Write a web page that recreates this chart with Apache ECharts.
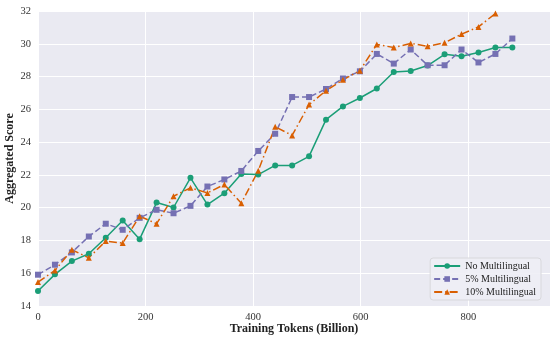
<!DOCTYPE html>
<html><head><meta charset="utf-8">
<script src="https://cdn.jsdelivr.net/npm/echarts@6/dist/echarts.min.js"></script>
<style>html,body{margin:0;padding:0;background:#fff}#c{width:550px;height:337px}</style>
</head><body><div id="c"></div>
<script>
const stepTokens = 31.5;
const noMulti = [14.92,15.93,16.74,17.19,18.16,19.22,18.08,20.31,20.01,21.82,20.19,20.88,22.06,22.02,22.58,22.58,23.13,25.37,26.18,26.69,27.27,28.28,28.34,28.67,29.36,29.24,29.47,29.77,29.77];
const multi5 = [15.91,16.52,17.27,18.24,19.02,18.65,19.38,19.87,19.66,20.11,21.29,21.72,22.24,23.46,24.51,26.75,26.75,27.24,27.88,28.32,29.38,28.79,29.65,28.69,28.69,29.65,28.86,29.38,30.32];
const multi10 = [15.46,16.17,17.43,16.94,17.96,17.84,19.48,19.02,20.70,21.21,20.90,21.41,20.27,22.25,24.94,24.41,26.29,27.14,27.8,28.36,29.96,29.77,30.02,29.85,30.06,30.59,31.03,31.85];
const seriesNames = ["No Multilingual","5% Multilingual","10% Multilingual"];
const yTicks = [14,16,18,20,22,24,26,28,30,32];
const xTicks = [0,200,400,600,800];

const toPts = arr => arr.map((v,i)=>[i*stepTokens, v]);
const serif = '"Liberation Serif","DejaVu Serif",serif';
const chart = echarts.init(document.getElementById('c'));
chart.setOption({
  animation:false,
  backgroundColor:'#ffffff',
  grid:{left:38,right:0,top:11,bottom:31,show:true,backgroundColor:'#EAEAF2',borderWidth:0,outerBoundsMode:'none',containLabel:false},
  xAxis:{type:'value',min:0,max:952,interval:200,
    name:'Training Tokens (Billion)',nameLocation:'middle',nameGap:17,nameMoveOverlap:false,
    nameTextStyle:{fontFamily:serif,fontWeight:'bold',fontSize:12,color:'#222'},
    axisLine:{show:false},axisTick:{show:false},
    axisLabel:{fontFamily:serif,fontSize:10.5,color:'#333',margin:6,showMaxLabel:false},
    splitLine:{show:true,lineStyle:{color:'#ffffff',width:1}}},
  yAxis:{type:'value',min:yTicks[0],max:yTicks[yTicks.length-1],interval:2,
    name:'Aggregated Score',nameLocation:'middle',nameGap:22,nameMoveOverlap:false,
    nameTextStyle:{fontFamily:serif,fontWeight:'bold',fontSize:12,color:'#222'},
    axisLine:{show:false},axisTick:{show:false},
    axisLabel:{fontFamily:serif,fontSize:10.5,color:'#333',margin:7},
    splitLine:{show:true,lineStyle:{color:'#ffffff',width:1}}},
  legend:{orient:'vertical',right:9,bottom:37,itemWidth:26,itemHeight:7,itemGap:3,
    padding:[3,5,3,3],backgroundColor:'rgba(238,238,245,0.9)',borderColor:'#d8d8dc',borderWidth:1,borderRadius:3,
    textStyle:{fontFamily:serif,fontSize:10,color:'#222'},
    data:seriesNames},
  series:[
    {name:seriesNames[0],type:'line',data:toPts(noMulti),symbol:'circle',symbolSize:6,
     itemStyle:{color:'#1b9e77'},lineStyle:{color:'#1b9e77',width:1.5,type:'solid'}},
    {name:seriesNames[1],type:'line',data:toPts(multi5),symbol:'rect',symbolSize:6,
     itemStyle:{color:'#7570b3'},lineStyle:{color:'#7570b3',width:1.5,type:[6,3]}},
    {name:seriesNames[2],type:'line',data:toPts(multi10),symbol:'triangle',symbolSize:6,
     itemStyle:{color:'#d95f02'},lineStyle:{color:'#d95f02',width:1.5,type:[8,3,1.5,3]}}
  ]
});
</script></body></html>
